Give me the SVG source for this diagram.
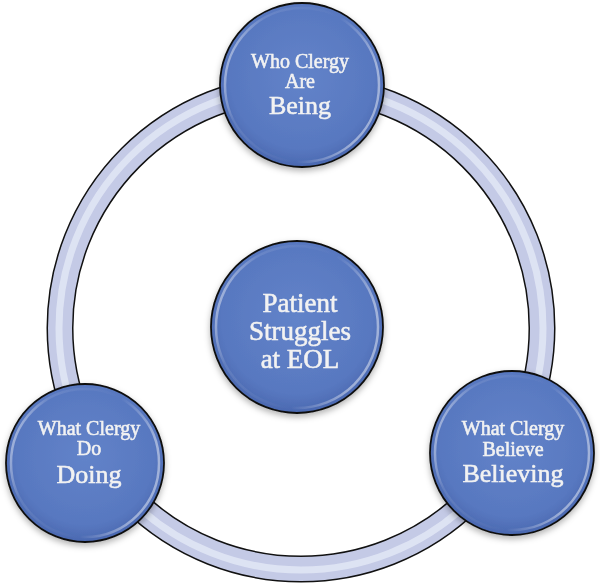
<svg xmlns="http://www.w3.org/2000/svg" width="600" height="586" viewBox="0 0 600 586">
  <defs>
    <radialGradient id="ballFill" cx="50%" cy="45%" r="55%">
      <stop offset="0" stop-color="#6283c9"/>
      <stop offset="0.8" stop-color="#5878c0"/>
      <stop offset="1" stop-color="#4a68b0"/>
    </radialGradient>
    <linearGradient id="rim" x1="0" y1="0" x2="1" y2="0.3">
      <stop offset="0" stop-color="#ffffff" stop-opacity="0.7"/>
      <stop offset="0.25" stop-color="#ffffff" stop-opacity="0.1"/>
      <stop offset="0.7" stop-color="#ffffff" stop-opacity="0"/>
      <stop offset="1" stop-color="#ffffff" stop-opacity="0.45"/>
    </linearGradient>
    <filter id="shadow" x="-20%" y="-20%" width="140%" height="150%">
      <feDropShadow dx="0" dy="3" stdDeviation="3" flood-color="#000" flood-opacity="0.3"/>
    </filter>
  </defs>
  <style>
    .ball { fill: url(#ballFill); stroke: #111; stroke-width: 1.8; }
    .rim { fill: none; stroke: url(#rim); stroke-width: 2.5; }
    .t { font-family: "Liberation Serif", "DejaVu Serif", serif; fill: #f2f2f2; stroke: #f2f2f2; stroke-width: 0.55; text-anchor: middle; }
    .s { font-size: 20px; }
    .l { font-size: 26px; }
    .c { font-size: 27px; }
  </style>
  <rect width="600" height="586" fill="#ffffff"/>
  <g id="connectors">
    <circle cx="301" cy="328" r="241" fill="none" stroke="#111" stroke-width="27"/>
    <circle cx="301" cy="328" r="241" fill="none" stroke="#c4cae6" stroke-width="24"/>
    <circle cx="301" cy="328" r="242" fill="none" stroke="#e4e8f6" stroke-width="7" opacity="0.8"/>
  </g>
  <g id="node-being" filter="url(#shadow)">
    <circle class="ball" cx="302" cy="85" r="82"/>
    <circle class="rim" cx="302" cy="85" r="77"/>
    <text class="t s" x="300" y="68">Who Clergy</text>
    <text class="t s" x="300" y="88">Are</text>
    <text class="t l" x="300" y="114">Being</text>
  </g>
  <g id="node-center" filter="url(#shadow)">
    <circle class="ball" cx="297" cy="327" r="86"/>
    <circle class="rim" cx="297" cy="327" r="81"/>
    <text class="t c" x="300" y="312">Patient</text>
    <text class="t c" x="300" y="340">Struggles</text>
    <text class="t c" x="300" y="368">at EOL</text>
  </g>
  <g id="node-doing" filter="url(#shadow)">
    <circle class="ball" cx="85" cy="463" r="79"/>
    <circle class="rim" cx="85" cy="463" r="74"/>
    <text class="t s" x="89" y="435">What Clergy</text>
    <text class="t s" x="89" y="455">Do</text>
    <text class="t l" x="89" y="483">Doing</text>
  </g>
  <g id="node-believing" filter="url(#shadow)">
    <circle class="ball" cx="512" cy="453" r="82"/>
    <circle class="rim" cx="512" cy="453" r="77"/>
    <text class="t s" x="513" y="435">What Clergy</text>
    <text class="t s" x="513" y="456">Believe</text>
    <text class="t l" x="513" y="482">Believing</text>
  </g>
</svg>
